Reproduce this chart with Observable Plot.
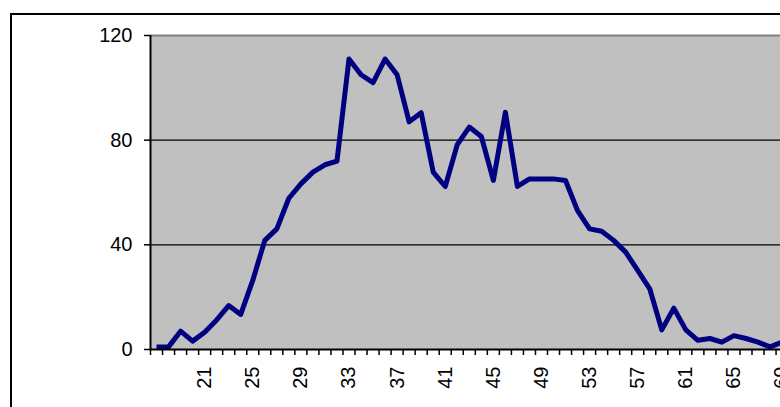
<!DOCTYPE html>
<html>
<head>
<meta charset="utf-8">
<script src="https://cdn.jsdelivr.net/npm/d3@7"></script>
<script src="https://cdn.jsdelivr.net/npm/@observablehq/plot@0.6"></script>
<style>
  html, body { margin: 0; padding: 0; background: #fff; overflow: hidden; }
  #wrap { position: relative; width: 780px; height: 407px; overflow: hidden; }
  #outer { position: absolute; left: 10px; top: 13px; width: 2000px; height: 2000px;
           border: 2px solid #000; box-sizing: border-box; pointer-events: none; z-index: 2; }
  #chart svg { display: block; }
</style>
</head>
<body>
<div id="wrap"><div id="chart"></div><div id="outer"></div></div>
<script>
const categories = [17,18,19,20,21,22,23,24,25,26,27,28,29,30,31,32,33,34,35,36,37,38,39,40,41,42,43,44,45,46,47,48,49,50,51,52,53,54,55,56,57,58,59,60,61,62,63,64,65,66,67,68,69];
const values = [1,1,7,3.2,6.6,11.3,16.8,13.4,26.4,41.7,46.1,57.8,63.3,67.8,70.6,72,111,105,102,111,105,87,90.5,67.8,62.3,78.3,85,81.4,64.6,90.7,62.3,65.2,65.2,65.2,64.6,53.1,46.1,45.2,41.7,37.2,30.2,23.2,7.5,15.8,7.5,3.5,4.2,2.8,5.3,4.2,2.8,1,2.8];
const xLabels = [21,25,29,33,37,41,45,49,53,57,61,65,69];
const yTicks = [0,40,80,120];
const gridValues = [40,80];

const data = categories.map((c, i) => ({cat: c, value: values[i]}));
const boundaries = categories.map(c => c - 0.5).concat([categories[categories.length - 1] + 0.5]);

const W = 780, H = 407, ML = 150, MT = 35, MB = 58;
const step = 12.03;
const xMin = categories[0] - 0.5;
const xMax = xMin + (W - ML) / step;

const chart = Plot.plot({
  width: W,
  height: H,
  marginLeft: ML,
  marginRight: 0,
  marginTop: MT,
  marginBottom: MB,
  style: {fontFamily: "'Liberation Sans', Arial, sans-serif", background: "#fff", color: "#000"},
  x: {type: "linear", domain: [xMin, xMax]},
  y: {domain: [0, 120]},
  marks: [
    Plot.frame({fill: "#c0c0c0"}),
    Plot.ruleY(gridValues, {stroke: "#000", strokeWidth: 1.2}),
    Plot.ruleY([120], {stroke: "#808080", strokeWidth: 2}),
    Plot.line(data, {x: "cat", y: "value", stroke: "#000080", strokeWidth: 5, strokeLinejoin: "round", strokeLinecap: "butt"}),
    Plot.ruleX([xMin], {stroke: "#000", strokeWidth: 2}),
    Plot.ruleY([0], {stroke: "#000", strokeWidth: 2}),
    Plot.axisX({ticks: boundaries, tickSize: 6, tickFormat: () => "", label: null, strokeWidth: 1.5}),
    Plot.axisY({ticks: yTicks, tickSize: 6, tickPadding: 12, fontSize: 20, label: null, strokeWidth: 1.5}),
    Plot.text(xLabels, {x: d => d, text: d => String(d), frameAnchor: "bottom", dy: 17, rotate: -90, textAnchor: "end", lineAnchor: "middle", fontSize: 20, fill: "#000"})
  ]
});
document.getElementById("chart").appendChild(chart);
</script>
</body>
</html>
